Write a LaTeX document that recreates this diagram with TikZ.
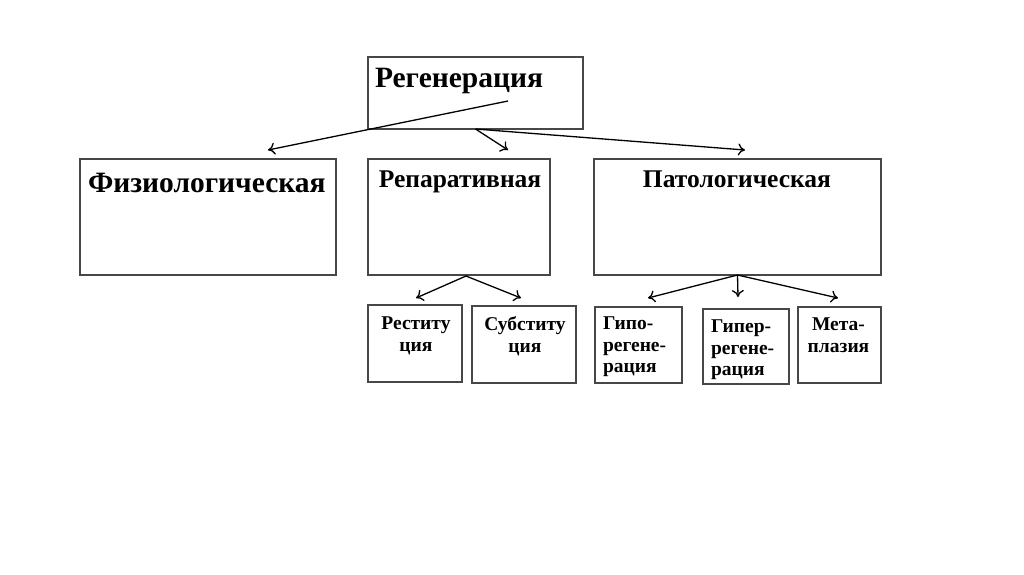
\documentclass[tikz,border=0pt]{standalone}
\usepackage{fontspec}
\setmainfont{Liberation Serif}
\usetikzlibrary{arrows.meta,calc}

\begin{document}
\begin{tikzpicture}[x=1pt,y=-1pt,every node/.style={inner sep=0pt,outer sep=0pt},
    box/.style={draw=black!72,line width=1.2pt,anchor=north west},
    txt/.style={font=\bfseries\fontsize{#1}{21.5}\selectfont},
    arr/.style={-{To[length=7pt,width=12pt]},line width=1.3pt}]
  \useasboundingbox (0,0) rectangle (1024,574);
  % boxes
  \node[box,minimum width=215,minimum height=72] (reg) at (368,57) {};
  \node[box,minimum width=256,minimum height=116] (fiz) at (80,159) {};
  \node[box,minimum width=182,minimum height=116] (rep) at (368,159) {};
  \node[box,minimum width=287,minimum height=116] (pat) at (594,159) {};
  \node[box,minimum width=94,minimum height=77] (rest) at (368,305) {};
  \node[box,minimum width=104,minimum height=77] (subst) at (472,306) {};
  \node[box,minimum width=87,minimum height=76] (gipo) at (595,307) {};
  \node[box,minimum width=86,minimum height=75] (giper) at (703,309) {};
  \node[box,minimum width=83,minimum height=76] (meta) at (798,307) {};
  % texts
  \node[txt=29.5,anchor=base west] (regt) at (375,87) {Регенерация};
  \node[txt=29.5,anchor=base west] (fizt) at (88,192) {Физиологическая};
  \node[txt=25.5,anchor=base] (rept) at (460,187) {Репаративная};
  \node[txt=25.5,anchor=base] (patt) at (737,187) {Патологическая};
  \node[txt=19.5,anchor=north,align=center] (restt) at ($(rest.north)+(1,12)$) {Реститу\\ция};
  \node[txt=19.5,anchor=north,align=center] (substt) at ($(subst.north)+(1,11)$) {Субститу\\ция};
  \node[txt=19.5,anchor=north west,align=left] (gipot) at ($(gipo.north west)+(8,10)$) {Гипо-\\регене-\\рация};
  \node[txt=19.5,anchor=north west,align=left] (gipert) at ($(giper.north west)+(8,11)$) {Гипер-\\регене-\\рация};
  \node[txt=19.5,anchor=north,align=center] (metat) at ($(meta.north)+(-1,11)$) {Мета-\\плазия};
  % connectors
  \coordinate (regin) at (508,101);
  \coordinate (tofiz) at (268,150);
  \coordinate (torep) at (508,150);
  \coordinate (topat) at (745,150);
  \coordinate (repout) at (466,276);
  \coordinate (torest) at (416,298);
  \coordinate (tosubst) at (521,298);
  \coordinate (togipo) at (648,298);
  \coordinate (togiper) at (738,297);
  \coordinate (tometa) at (838,298);
  \draw[arr] (regin) -- (tofiz);
  \draw[arr] (reg.south) -- (torep);
  \draw[arr] (reg.south) -- (topat);
  \draw[arr] (repout) -- (torest);
  \draw[arr] (repout) -- (tosubst);
  \draw[arr] (pat.south) -- (togipo);
  \draw[arr] (pat.south) -- (togiper);
  \draw[arr] (pat.south) -- (tometa);
\end{tikzpicture}
\end{document}
